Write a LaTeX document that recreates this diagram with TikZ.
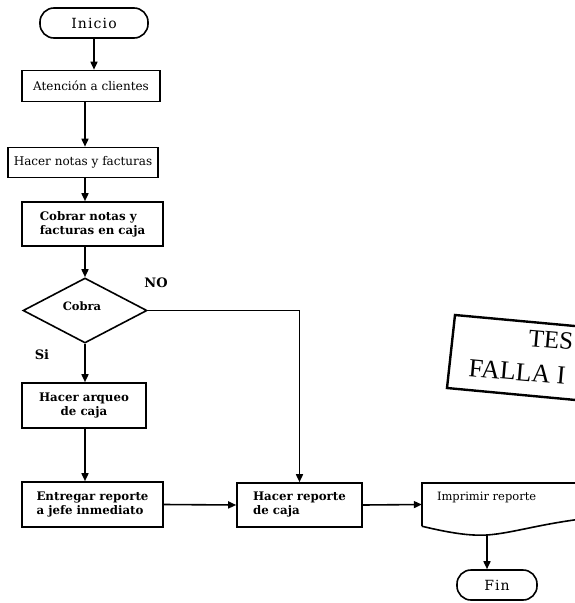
\documentclass[tikz,border=0pt]{standalone}
\usepackage{fontspec}
\setmainfont{DejaVu Serif}
\newfontfamily\stampfont{Liberation Serif}
\usetikzlibrary{shapes.geometric,arrows.meta,calc}
\tikzset{
  box/.style={draw, line width=1.6pt, inner sep=2pt, font=\fontsize{12}{14}\selectfont},
  bbox/.style={box, align=left, font=\fontsize{11.8}{14}\selectfont\bfseries},
  term/.style={draw, line width=1.6pt, rounded corners=14pt, font=\fontsize{14}{16}\selectfont\addfontfeatures{LetterSpace=8}},
  arr/.style={line width=1.6pt, -{Triangle[length=8pt,width=7pt]}},
  lin/.style={line width=1.6pt},
  lbl/.style={font=\fontsize{13}{15}\selectfont\bfseries, inner sep=0pt}
}
\begin{document}
\begin{tikzpicture}[x=1pt,y=-1pt]
\useasboundingbox (0,0) rectangle (575,603);
\begin{scope}
\clip (0,0) rectangle (575,603);
% nodes
\node[term, minimum width=108pt, minimum height=30pt] (inicio) at (94,23) {Inicio};
\node[box, minimum width=138pt, minimum height=31pt] (aten) at (91,86) {Atención a clientes};
\node[box, minimum width=150pt, minimum height=30pt] (notas) at (83,162.5) {Hacer notas y facturas};
\node[bbox, minimum width=141pt, minimum height=44pt] (cobrar) at (92.5,224) {Cobrar notas y\\facturas en caja};
\node[draw, line width=1.6pt, diamond, minimum width=124pt, minimum height=65pt, inner sep=0pt, font=\fontsize{11.5}{13}\selectfont\bfseries] (cobra) at (85,310.5) {\raisebox{8pt}{Cobra}\hspace*{6pt}};
\node[bbox, minimum width=124pt, minimum height=45pt, align=center] (arqueo) at (84,405.5) {Hacer arqueo\\de caja};
\node[bbox, minimum width=141pt, minimum height=45pt] (entregar) at (92.5,504.5) {Entregar reporte\\a jefe inmediato};
\node[bbox, minimum width=125pt, minimum height=44pt] (hrep) at (299.5,505) {Hacer reporte\\de caja};
\node[minimum width=178pt, minimum height=43pt, inner sep=0pt] (imp) at (511,504.5) {};
\node[anchor=north west, inner sep=0pt, font=\fontsize{11.5}{13}\selectfont] (imptext) at ([xshift=15pt,yshift=-9pt]imp.north west) {Imprimir reporte};
\node[term, minimum width=80pt, minimum height=30pt] (fin) at (497,585) {Fin};
% labels
\node[lbl] (no) at (156,283) {NO};
\node[lbl] (si) at (42,355) {Si};
% document shape
\draw[lin] (imp.south west) -- (imp.north west) -- (imp.north east);
\coordinate (impb) at (487,535);
\draw[lin] (imp.south west) .. controls (450,533) and (470,536) .. (impb) .. controls (515,533) and (545,522) .. (600,517);
% connectors
\coordinate (col) at (85,0);
\draw[arr] (inicio) -- (inicio |- aten.north);
\draw[arr] (col |- aten.south) -- (col |- notas.north);
\draw[arr] (col |- notas.south) -- (col |- cobrar.north);
\draw[arr] (col |- cobrar.south) -- (cobra.north);
\draw[arr] (cobra.south) -- (col |- arqueo.north);
\draw[arr] (col |- arqueo.south) -- (col |- entregar.north);
\draw[arr] (cobra.east) -| (hrep.north);
\draw[arr] (entregar.east) -- (hrep.west);
\draw[arr] (hrep.east) -- (imp.west);
\draw[arr] (impb) -- (impb |- fin.north);
% stamp
\draw[line width=2.4pt] (640,332) -- (455,315) -- (447,388) -- (640,406);
\node[rotate=-5, anchor=base west, inner sep=0pt, font=\stampfont\fontsize{25}{28}\selectfont] (tes) at (528,346) {TES};
\node[rotate=-5, anchor=base west, inner sep=0pt, font=\stampfont\fontsize{26}{28}\selectfont] (falla) at (468,376) {FALLA I};
\end{scope}
\end{tikzpicture}
\end{document}
